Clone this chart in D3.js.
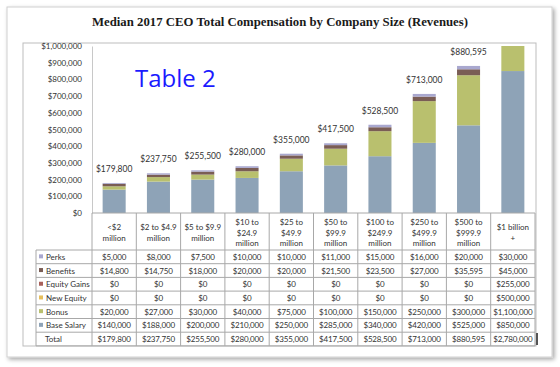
<!DOCTYPE html>
<html>
<head>
<meta charset="utf-8">
<script src="https://cdn.jsdelivr.net/npm/d3@7"></script>
<style>
  body { margin: 0; background: #fff; }
  svg { display: block; }
  text { font-family: Lato, "Liberation Sans", sans-serif; }
</style>
</head>
<body>
<div id="chart"></div>
<script>
// data
const categories = ['<$2 million', '$2 to $4.9 million', '$5 to $9.9 million', '$10 to $24.9 million',
  '$25 to $49.9 million', '$50 to $99.9 million', '$100 to $249.9 million', '$250 to $499.9 million',
  '$500 to $999.9 million', '$1 billion +'];
const headerLines = [['<$2', 'million'], ['$2 to $4.9', 'million'], ['$5 to $9.9', 'million'],
  ['$10 to', '$24.9', 'million'], ['$25 to', '$49.9', 'million'], ['$50 to', '$99.9', 'million'],
  ['$100 to', '$249.9', 'million'], ['$250 to', '$499.9', 'million'], ['$500 to', '$999.9', 'million'],
  ['$1 billion', '+']];
const baseSalary = [140000, 188000, 200000, 210000, 250000, 285000, 340000, 420000, 525000, 850000];
const bonus = [20000, 27000, 30000, 40000, 75000, 100000, 150000, 250000, 300000, 1100000];
const newEquity = [0, 0, 0, 0, 0, 0, 0, 0, 0, 500000];
const equityGains = [0, 0, 0, 0, 0, 0, 0, 0, 0, 255000];
const benefits = [14800, 14750, 18000, 20000, 20000, 21500, 23500, 27000, 35595, 45000];
const perks = [5000, 8000, 7500, 10000, 10000, 11000, 15000, 16000, 20000, 30000];
const totals = [179800, 237750, 255500, 280000, 355000, 417500, 528500, 713000, 880595, 2780000];
const yTicks = [0, 100000, 200000, 300000, 400000, 500000, 600000, 700000, 800000, 900000, 1000000];

// stack order bottom -> top
const seriesKeys = ['Base Salary', 'Bonus', 'New Equity', 'Equity Gains', 'Benefits', 'Perks'];
const seriesValues = {
  'Base Salary': baseSalary, 'Bonus': bonus, 'New Equity': newEquity,
  'Equity Gains': equityGains, 'Benefits': benefits, 'Perks': perks
};
const colors = {
  'Base Salary': '#8ea3b7', 'Bonus': '#b9c06e', 'New Equity': '#e6bf5c',
  'Equity Gains': '#a8605a', 'Benefits': '#7a5d55', 'Perks': '#a9a8cf'
};
// table row order (top -> bottom)
const tableRows = ['Perks', 'Benefits', 'Equity Gains', 'New Equity', 'Bonus', 'Base Salary', 'Total'];

const W = 560, H = 367;
const svg = d3.select('#chart').append('svg').attr('width', W).attr('height', H);

const defs = svg.append('defs');
const shadow = defs.append('filter').attr('id', 'shadow')
  .attr('x', '-5%').attr('y', '-5%').attr('width', '110%').attr('height', '110%');
shadow.append('feDropShadow').attr('dx', 2).attr('dy', 2).attr('stdDeviation', 2)
  .attr('flood-color', '#000').attr('flood-opacity', 0.35);

// outer card
svg.append('rect').attr('x', 7).attr('y', 7).attr('width', 545).attr('height', 350)
  .attr('fill', '#fff').attr('stroke', '#d0d0d0').attr('filter', 'url(#shadow)');

svg.append('text').attr('x', 280).attr('y', 26).attr('text-anchor', 'middle')
  .style('font-family', '"Liberation Serif", "DejaVu Serif", serif')
  .style('font-weight', 'bold').style('font-size', '13.5px').attr('fill', '#1a1a1a')
  .attr('textLength', 376).attr('lengthAdjust', 'spacingAndGlyphs')
  .text('Median 2017 CEO Total Compensation by Company Size (Revenues)');

// inner chart frame
svg.append('rect').attr('x', 23).attr('y', 43).attr('width', 513).attr('height', 303)
  .attr('fill', '#fff').attr('stroke', '#bdbdbd');

const plotLeft = 92, plotRight = 535, plotTop = 46, plotBottom = 213;
const x = d3.scaleBand().domain(categories).range([plotLeft, plotRight]).paddingInner(0.48).paddingOuter(0.24);
const colX = d3.scaleBand().domain(categories).range([plotLeft, plotRight]);
const y = d3.scaleLinear().domain([0, 1000000]).range([plotBottom, plotTop]);

const yAxis = d3.axisLeft(y).tickValues(yTicks).tickSize(0).tickPadding(10)
  .tickFormat(d => '$' + d3.format(',')(d));
const gy = svg.append('g').attr('transform', `translate(${plotLeft},0)`).call(yAxis);
gy.select('.domain').attr('stroke', '#c8c8c8');
gy.selectAll('text').style('font-size', '8px').attr('fill', '#333');

// stacked bars
const rows = categories.map((c, i) => {
  const r = { cat: c };
  seriesKeys.forEach(k => { r[k] = seriesValues[k][i]; });
  return r;
});
const stack = d3.stack().keys(seriesKeys)(rows);

defs.append('clipPath').attr('id', 'plotclip').append('rect')
  .attr('x', plotLeft).attr('y', plotTop).attr('width', plotRight - plotLeft).attr('height', plotBottom - plotTop);

svg.append('g').attr('clip-path', 'url(#plotclip)')
  .selectAll('g').data(stack).join('g').attr('fill', d => colors[d.key])
  .selectAll('rect').data(d => d).join('rect')
  .attr('x', d => x(d.data.cat))
  .attr('width', x.bandwidth())
  .attr('y', d => y(d[1]))
  .attr('height', d => y(d[0]) - y(d[1]));

// total labels (the last bar runs off the scale, so no label)
svg.append('g').selectAll('text').data(categories.slice(0, 9)).join('text')
  .attr('x', d => x(d) + x.bandwidth() / 2)
  .attr('y', (d, i) => y(totals[i]) - 11)
  .attr('text-anchor', 'middle').style('font-size', '8.5px').attr('fill', '#333')
  .text((d, i) => '$' + d3.format(',')(totals[i]));

svg.append('text').attr('x', 135).attr('y', 87).attr('fill', '#1a1aff')
  .style('font-family', '"Open Sans", Lato, sans-serif').style('font-size', '24px')
  .text('Table 2');

// data table under the bars
const headerBottom = 250, rowH = 13.7;
const tableBottom = headerBottom + rowH * tableRows.length;
const lineColor = '#a8a8a8';
const table = svg.append('g');

table.append('line').attr('x1', plotLeft).attr('x2', plotRight).attr('y1', plotBottom).attr('y2', plotBottom)
  .attr('stroke', lineColor);
categories.forEach(c => {
  table.append('line').attr('x1', colX(c)).attr('x2', colX(c))
    .attr('y1', plotBottom).attr('y2', tableBottom).attr('stroke', lineColor);
});
table.append('line').attr('x1', plotRight).attr('x2', plotRight)
  .attr('y1', plotBottom).attr('y2', tableBottom).attr('stroke', lineColor);
table.append('line').attr('x1', 36).attr('x2', 36)
  .attr('y1', headerBottom).attr('y2', tableBottom).attr('stroke', lineColor);
for (let i = 0; i <= tableRows.length; i++) {
  table.append('line').attr('x1', 36).attr('x2', plotRight)
    .attr('y1', headerBottom + i * rowH).attr('y2', headerBottom + i * rowH)
    .attr('stroke', lineColor);
}

// header cells
categories.forEach((c, i) => {
  const lines = headerLines[i];
  const cy = (plotBottom + headerBottom) / 2 + 1;
  const t = table.append('text').attr('text-anchor', 'middle')
    .style('font-size', '8px').attr('fill', '#333');
  lines.forEach((ln, j) => {
    t.append('tspan').attr('x', colX(c) + colX.bandwidth() / 2)
      .attr('y', cy + (j - (lines.length - 1) / 2) * 10.5 + 3)
      .text(ln);
  });
});

// row labels with swatches
tableRows.forEach((r, i) => {
  const ry = headerBottom + i * rowH;
  if (colors[r]) {
    table.append('rect').attr('x', 39).attr('y', ry + rowH / 2 - 2.5)
      .attr('width', 4).attr('height', 4).attr('fill', colors[r]);
  }
  table.append('text').attr('x', r === 'Total' ? 45 : 46).attr('y', ry + rowH / 2 + 3)
    .style('font-size', '8px').attr('fill', '#333').text(r);
  const vals = r === 'Total' ? totals : seriesValues[r];
  categories.forEach((c, j) => {
    table.append('text').attr('x', colX(c) + colX.bandwidth() / 2).attr('y', ry + rowH / 2 + 3)
      .attr('text-anchor', 'middle').style('font-size', '8px').style('letter-spacing', '-0.15px')
      .attr('fill', '#333')
      .text('$' + d3.format(',')(vals[j]));
  });
});

// small dark mark at the table's right edge
svg.append('rect').attr('x', 536).attr('y', 333).attr('width', 2).attr('height', 12).attr('fill', '#555');
</script>
</body>
</html>
